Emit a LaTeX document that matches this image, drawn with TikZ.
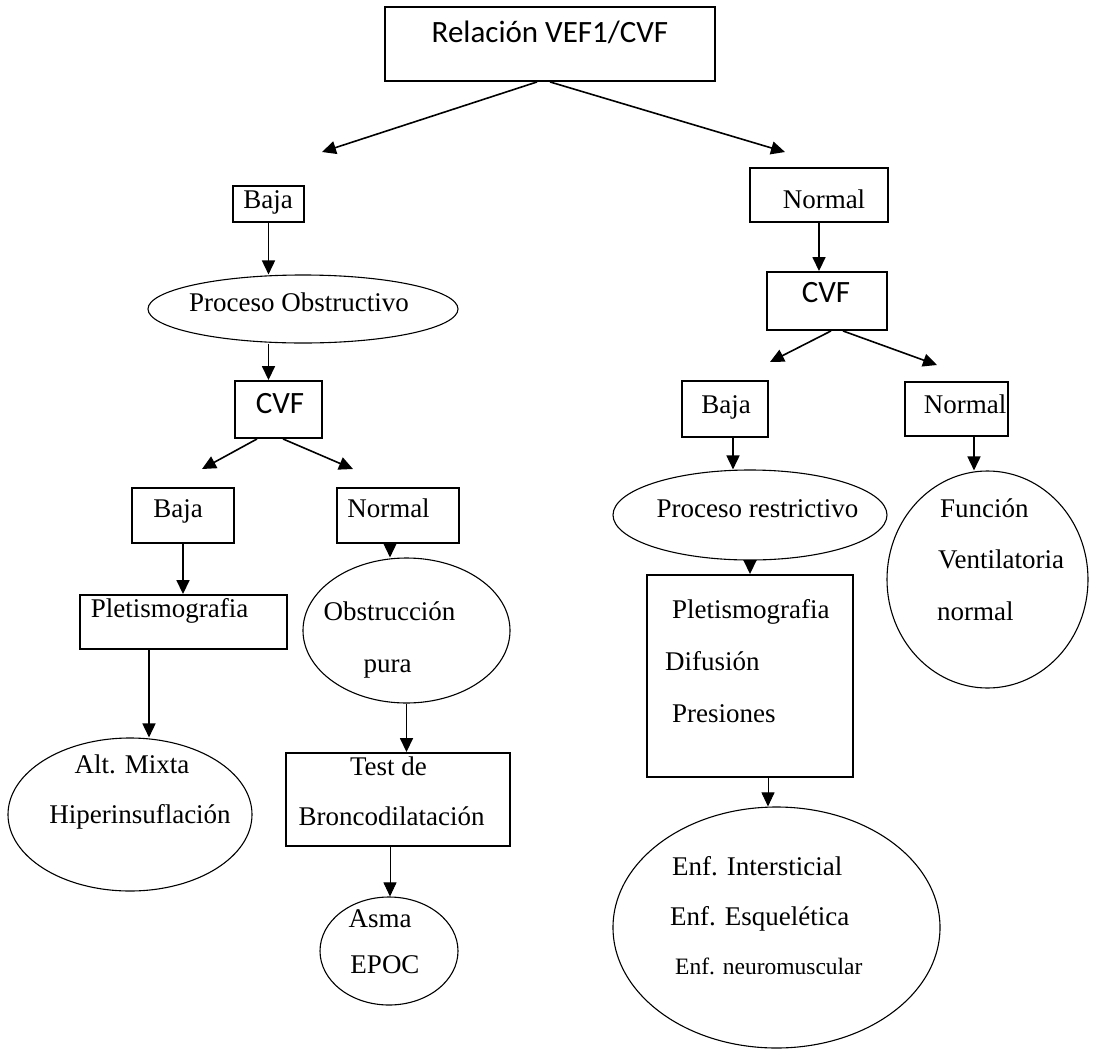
\documentclass[tikz,border=0pt]{standalone}
\usepackage{fontspec}
\setmainfont{Liberation Serif}
\newfontfamily\calib{Carlito}
\usetikzlibrary{arrows.meta,shapes.geometric}
\begin{document}
\begin{tikzpicture}[x=1pt,y=-1pt,
  box/.style={draw,line width=1.9pt,rectangle,inner sep=0pt},
  oval/.style={draw,line width=1.1pt,ellipse,inner sep=0pt},
  arr/.style={line width=1.6pt,-{Triangle[length=14pt,width=13pt]}},
  thinarr/.style={line width=0.9pt,-{Triangle[length=14pt,width=13pt]}},
  lbl/.style={inner sep=0pt,text height=0.7em,text depth=0.2em,yshift=-3pt,font=\fontsize{27}{32}\selectfont},
  small/.style={inner sep=0pt,text height=0.7em,text depth=0.2em,yshift=-3pt,font=\fontsize{23.5}{28}\selectfont},
  cal/.style={inner sep=0pt,text height=0.7em,text depth=0.2em,font=\calib\fontsize{31}{36}\selectfont},
]
\useasboundingbox[fill=white] (0,0) rectangle (1095,1063);

% ---------- top ----------
\node[box,minimum width=330pt,minimum height=74pt] (top) at (550,44) {};
\node[cal] (ttop) at (550,40) {Relación VEF1/CVF};
\coordinate (tipL) at (322,152);
\coordinate (tipR) at (785,152);
\draw[arr] ([xshift=-13pt]top.south) -- (tipL);
\draw[arr] ([xshift=0pt]top.south) -- (tipR);

% ---------- left branch ----------
\node[box,line width=1.5pt,minimum width=71pt,minimum height=36pt] (baja1) at (268.5,204) {};
\node[lbl] (tbaja1) at (268,203) {Baja};

\node[oval,minimum width=310pt,minimum height=68pt] (po) at (303,309) {};
\node[lbl] (tpo) at (299,306) {Proceso Obstructivo};
\draw[arr] (baja1.south) -- (baja1.south |- po.north);

\node[box,minimum width=87pt,minimum height=57pt] (cvf1) at (278.5,409.5) {};
\node[cal] (tcvf1) at (280,411) {CVF};
\draw[arr] (po.south -| baja1.south) -- (baja1.south |- cvf1.north);

\coordinate (tipLL) at (202,469);
\coordinate (tipLR) at (353,469);
\draw[arr] ([xshift=-21.5pt]cvf1.south) -- (tipLL);
\draw[arr] ([xshift=4.5pt]cvf1.south) -- (tipLR);

\node[box,minimum width=102pt,minimum height=55pt] (baja2) at (183,515.5) {};
\node[lbl] (tbaja2) at (178,512) {Baja};
\node[box,minimum width=122pt,minimum height=55pt] (norm2) at (398,515.5) {};
\node[lbl] (tnorm2) at (388.5,512) {Normal};

\node[box,minimum width=207pt,minimum height=54pt] (pleti1) at (183.5,622) {};
\node[lbl] (tpleti1) at (169.5,612) {Pletismografia};
\draw[arr] (baja2.south) -- (baja2.south |- pleti1.north);

\node[oval,minimum width=244pt,minimum height=153pt] (alt) at (130,814.5) {};
\node[lbl] (talt1) at (132,768) {Alt. Mixta};
\node[lbl] (talt2) at (140,818) {Hiperinsuflación};
\draw[arr] ([xshift=-34.5pt]pleti1.south) -- ([xshift=-34.5pt]pleti1.south |- alt.north);

\node[oval,minimum width=207pt,minimum height=145pt] (obs) at (406.5,630.5) {};
\node[lbl] (tobs1) at (389.5,615) {Obstrucción};
\node[lbl] (tobs2) at (387.5,667) {pura};
\draw[arr] ([xshift=-8pt]norm2.south) -- ([xshift=-8pt]norm2.south |- obs.north);

\node[box,minimum width=224pt,minimum height=93pt] (test) at (398,799.5) {};
\node[lbl] (ttest1) at (388.5,770) {Test de};
\node[lbl] (ttest2) at (391.5,820) {Broncodilatación};
\draw[arr] (obs.south) -- (obs.south |- test.north);

\node[oval,minimum width=138pt,minimum height=108pt] (asma) at (389,951) {};
\node[lbl] (tasma1) at (380,922) {Asma};
\node[lbl] (tasma2) at (385,968) {EPOC};
\draw[thinarr] ([xshift=-8pt]test.south) -- ([xshift=-8pt]test.south |- asma.north);

% ---------- right branch ----------
\node[box,minimum width=138pt,minimum height=54pt] (norm1) at (819,195) {};
\node[lbl] (tnorm1) at (824,203) {Normal};

\node[box,minimum width=120pt,minimum height=58pt] (cvf2) at (827,301) {};
\node[cal] (tcvf2) at (826,300) {CVF};
\draw[arr] (norm1.south) -- (norm1.south |- cvf2.north);

\coordinate (tipRL) at (770,362);
\coordinate (tipRR) at (937,365);
\draw[arr] ([xshift=4pt]cvf2.south) -- (tipRL);
\draw[arr] ([xshift=16pt]cvf2.south) -- (tipRR);

\node[box,minimum width=86pt,minimum height=56pt] (baja3) at (725,409) {};
\node[lbl] (tbaja3) at (726,408) {Baja};
\node[box,minimum width=103pt,minimum height=54pt] (norm3) at (956.5,409) {};
\node[lbl] (tnorm3) at (965,408) {Normal};

\node[oval,minimum width=274pt,minimum height=90pt] (pr) at (750,515) {};
\node[lbl] (tpr) at (757.5,512) {Proceso restrictivo};
\draw[arr] ([xshift=8pt]baja3.south) -- ([xshift=8pt]baja3.south |- pr.north);

\node[oval,minimum width=201pt,minimum height=217pt] (func) at (987.5,579.5) {};
\node[lbl,anchor=west] (tfunc1) at (940,512) {Función};
\node[lbl,anchor=west] (tfunc2) at (938,563) {Ventilatoria};
\node[lbl,anchor=west] (tfunc3) at (937,615) {normal};
\draw[arr] ([xshift=17.5pt]norm3.south) -- ([xshift=17.5pt]norm3.south |- func.north);

\node[box,minimum width=206pt,minimum height=202pt] (pleti2) at (750,676) {};
\node[lbl,anchor=west] (tpl1) at (672,613) {Pletismografia};
\node[lbl,anchor=west] (tpl2) at (665,665) {Difusión};
\node[lbl,anchor=west] (tpl3) at (672,717) {Presiones};
\draw[arr] (pr.south) -- (pr.south |- pleti2.north);

\node[oval,minimum width=327pt,minimum height=241pt] (enf) at (776.5,927.5) {};
\node[lbl,anchor=west] (tenf1) at (672,870) {Enf. Intersticial};
\node[lbl,anchor=west] (tenf2) at (670,920) {Enf. Esquelética};
\node[small,anchor=west] (tenf3) at (675,969) {Enf. neuromuscular};
\draw[thinarr] ([xshift=18pt]pleti2.south) -- ([xshift=18pt]pleti2.south |- enf.north);
\end{tikzpicture}
\end{document}
